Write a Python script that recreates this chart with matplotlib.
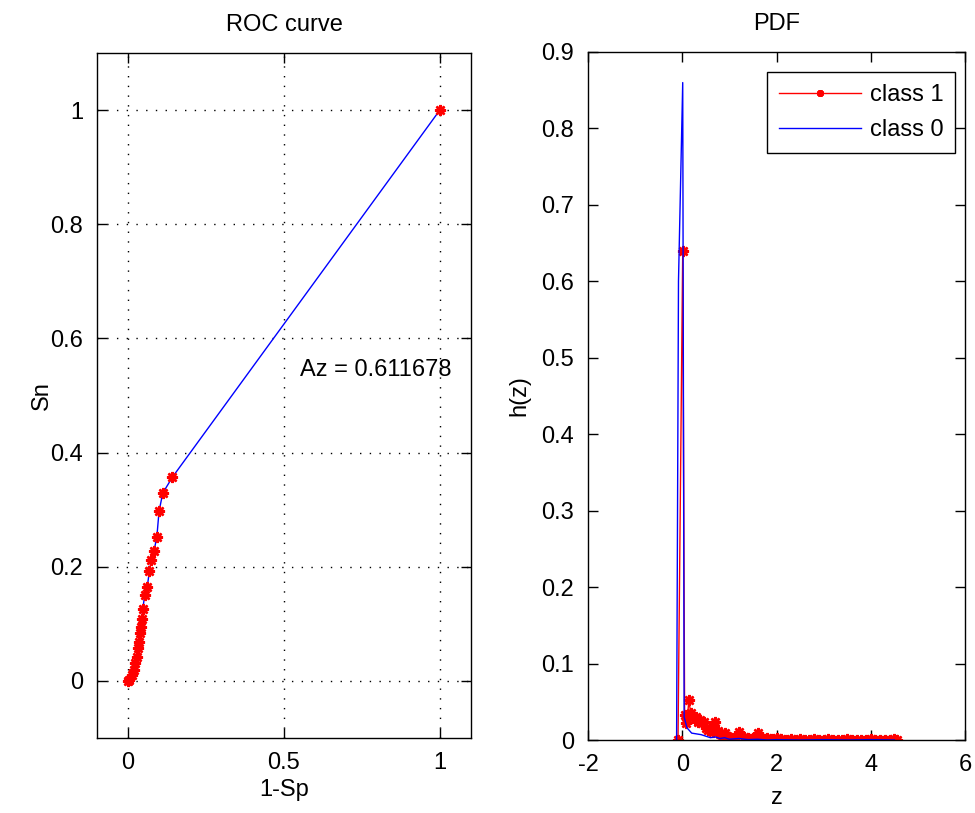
import numpy as np
import matplotlib
matplotlib.use('Agg')
import matplotlib.pyplot as plt

plt.rcParams['font.family'] = ['Liberation Sans', 'DejaVu Sans']
plt.rcParams['font.size'] = 17
plt.rcParams['axes.unicode_minus'] = False

# ROC points (1-Sp, Sn)
fpr = [0.0, 0.004, 0.013, 0.018, 0.023, 0.029, 0.032, 0.036, 0.039, 0.042, 0.044,
       0.047, 0.053, 0.061, 0.068, 0.074, 0.083, 0.092, 0.099, 0.111, 0.142, 1.0]
tpr = [0.0, 0.001, 0.011, 0.019, 0.031, 0.042, 0.057, 0.069, 0.084, 0.095, 0.109,
       0.126, 0.150, 0.164, 0.192, 0.211, 0.228, 0.252, 0.297, 0.329, 0.357, 1.0]
az = 0.611678

# PDF, class 1
z1 = [-0.09, 0.01, 0.05, 0.08, 0.11, 0.14, 0.18, 0.22, 0.26, 0.30, 0.34, 0.38, 0.42,
      0.46, 0.50, 0.55, 0.60, 0.65, 0.70, 0.75, 0.80, 0.85, 0.90, 0.95, 1.00, 1.10,
      1.20, 1.30, 1.40, 1.50, 1.60, 1.70, 1.80, 1.90, 2.00, 2.10, 2.20, 2.30, 2.40,
      2.50, 2.60, 2.70, 2.80, 2.90, 3.00, 3.10, 3.20, 3.30, 3.40, 3.50, 3.60, 3.70,
      3.80, 3.90, 4.00, 4.10, 4.20, 4.30, 4.40, 4.50, 4.55]
h1 = [0.0, 0.64, 0.033, 0.022, 0.030, 0.052, 0.035, 0.030, 0.028, 0.030, 0.024, 0.026,
      0.022, 0.024, 0.016, 0.013, 0.015, 0.010, 0.024, 0.012, 0.008, 0.006, 0.009,
      0.005, 0.004, 0.003, 0.011, 0.004, 0.003, 0.002, 0.009, 0.003, 0.002, 0.001,
      0.002, 0.001, 0.0, 0.001, 0.0, 0.001, 0.0, 0.0, 0.001, 0.0, 0.0, 0.001, 0.0,
      0.0, 0.0, 0.001, 0.0, 0.0, 0.0, 0.0, 0.001, 0.0, 0.0, 0.0, 0.0, 0.001, 0.0]

# PDF, class 0
z0 = [-0.12, -0.08, 0.01, 0.04, 0.10, 0.20, 0.30, 0.40, 0.50, 0.60, 0.70, 0.80, 0.90,
      1.00, 1.20, 1.40, 1.60, 1.80, 2.00, 2.50, 3.00, 3.50, 4.00, 4.50]
h0 = [0.0, 0.60, 0.86, 0.030, 0.016, 0.009, 0.008, 0.007, 0.005, 0.003, 0.004, 0.002,
      0.003, 0.001, 0.002, 0.0005, 0.001, 0.0, 0.0005, 0.0, 0.0005, 0.0, 0.0005, 0.0]

fig = plt.figure(figsize=(9.75, 8.13), dpi=100)
ax1 = fig.add_axes([97/975, 75/813, 374/975, 685/813])
ax2 = fig.add_axes([588/975, 73/813, 377/975, 688/813])

star = (8, 2, 0)  # asterisk like matlab '*'
grid_kw = dict(color='k', linestyle=(0, (1, 6)), linewidth=1.0)
for ax in (ax1, ax2):
    ax.tick_params(direction='in', length=7, width=1, top=True, right=True, pad=10, labelsize=17)
    for s in ax.spines.values():
        s.set_linewidth(1.0)

# ROC
ax1.plot(fpr, tpr, color='blue', lw=1)
ax1.plot(fpr, tpr, linestyle='none', marker=star, ms=8, mew=1.8, color='red', mec='red')
ax1.set_xlim(-0.1, 1.1)
ax1.set_ylim(-0.1, 1.1)
ax1.set_xticks([0, 0.5, 1])
ax1.set_xticklabels(['0', '0.5', '1'])
ax1.set_yticks([0, 0.2, 0.4, 0.6, 0.8, 1])
ax1.set_yticklabels(['0', '0.2', '0.4', '0.6', '0.8', '1'])
ax1.grid(True, **grid_kw)
ax1.set_title('ROC curve', fontsize=17, pad=16)
ax1.set_xlabel('1-Sp', fontsize=17, labelpad=4)
ax1.set_ylabel('Sn', fontsize=17, labelpad=-2)
ax1.text(0.55, 0.545, 'Az = %g' % az, fontsize=17, ha='left', va='center')

# PDF
ax2.plot(z1, h1, color='red', lw=1, marker=star, ms=8, mew=1.8, mec='red', label='class 1')
ax2.plot(z0, h0, color='blue', lw=1, label='class 0')
ax2.set_xlim(-2, 6)
ax2.set_ylim(0, 0.9)
ax2.set_xticks([-2, 0, 2, 4, 6])
ax2.set_yticks(np.arange(0, 0.91, 0.1))
ax2.set_yticklabels(['0', '0.1', '0.2', '0.3', '0.4', '0.5', '0.6', '0.7', '0.8', '0.9'])
ax2.set_title('PDF', fontsize=17, pad=16)
ax2.set_xlabel('z', fontsize=17, labelpad=8)
ax2.set_ylabel('h(z)', fontsize=17, labelpad=8)
leg = ax2.legend(loc='upper right', bbox_to_anchor=(1 - 10/377, 1 - 20/688), borderaxespad=0,
                 handlelength=3.5, handletextpad=0.35, numpoints=1, fancybox=False,
                 framealpha=1, edgecolor='k', fontsize=17, borderpad=0.5, labelspacing=0.55)
leg.get_frame().set_linewidth(1.0)
for h in leg.legend_handles:
    h.set_markersize(5)

fig.savefig('out.png', dpi=100)
